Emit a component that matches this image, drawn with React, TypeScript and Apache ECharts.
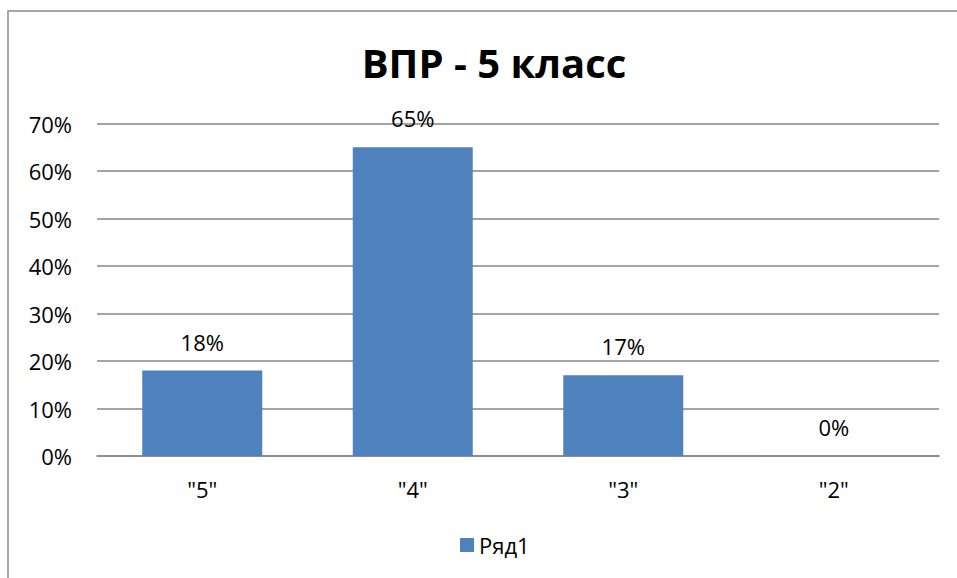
import React, { useEffect, useRef } from "react";
import * as echarts from "echarts";

const categories = ['"5"', '"4"', '"3"', '"2"'];
const values = [18, 65, 17, 0];
const seriesName = "Ряд1";
const titleText = "ВПР - 5 класс";

export default function App() {
  const ref = useRef<HTMLDivElement>(null);
  useEffect(() => {
    const chart = echarts.init(ref.current!, null, { renderer: "svg" });
    const font = "'Open Sans', 'Noto Sans', sans-serif";
    chart.setOption({
      animation: false,
      backgroundColor: "#ffffff",
      title: {
        text: titleText,
        left: 489,
        textAlign: "center",
        top: 37,
        textStyle: { fontFamily: font, fontSize: 40, fontWeight: "bold", color: "#000" },
      },
      graphic: [
        {
          type: "polyline",
          shape: { points: [[8, 578], [8, 11], [957, 11]] },
          style: { stroke: "#8c8c8c", lineWidth: 1.5, fill: "none" },
          silent: true,
        },
      ],
      legend: {
        bottom: 17,
        left: 455,
        itemWidth: 14,
        itemHeight: 14,
        icon: "rect",
        itemGap: 6,
        textStyle: { fontFamily: font, fontSize: 22, color: "#000" },
        data: [seriesName],
      },
      grid: { left: 97, right: 18, top: 123.5, bottom: 122 },
      xAxis: {
        type: "category",
        data: categories,
        axisTick: { show: false },
        axisLine: { lineStyle: { color: "#868686", width: 1.5 } },
        axisLabel: { fontFamily: font, fontSize: 22, color: "#000", margin: 22 },
      },
      yAxis: {
        type: "value",
        min: 0,
        max: 70,
        interval: 10,
        axisLine: { show: false },
        axisTick: { show: false },
        splitLine: { lineStyle: { color: "#868686", width: 1.5 } },
        axisLabel: {
          fontFamily: font,
          fontSize: 22,
          color: "#000",
          margin: 25,
          formatter: (v: number) => v + "%",
        },
      },
      series: [
        {
          name: seriesName,
          type: "bar",
          data: values,
          barCategoryGap: "43%",
          itemStyle: { color: "#4F81BD" },
          label: {
            show: true,
            position: "top",
            distance: 18,
            fontFamily: font,
            fontSize: 22,
            color: "#000",
            formatter: (p: any) => p.value + "%",
          },
        },
      ],
    });
    return () => chart.dispose();
  }, []);
  return (
    <div
      ref={ref}
      style={{ position: "absolute", left: 0, top: 0, width: 957, height: 578 }}
    />
  );
}
